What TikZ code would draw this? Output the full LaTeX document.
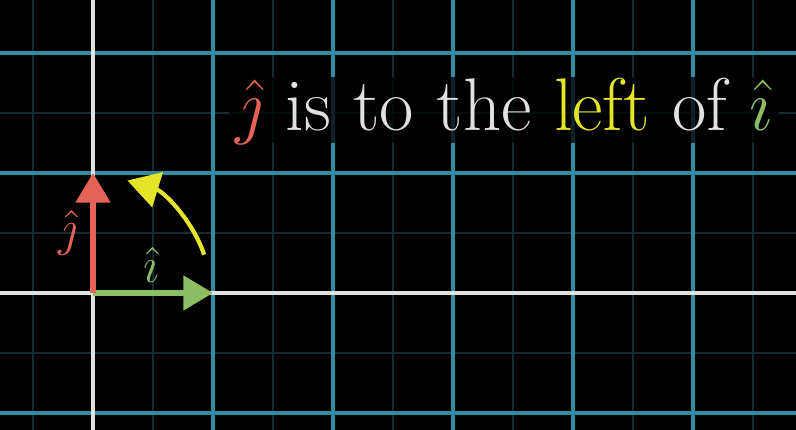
\documentclass[tikz,border=0pt]{standalone}
\usepackage{xcolor}
\usetikzlibrary{arrows.meta, math}
\definecolor{gridteal}{RGB}{52,138,158}
\definecolor{gridfaint}{RGB}{18,44,50}
\definecolor{axiswhite}{RGB}{225,225,225}
\definecolor{jred}{RGB}{228,98,86}
\definecolor{igreen}{RGB}{140,190,100}
\definecolor{leftyellow}{RGB}{228,228,40}

\begin{document}
\begin{tikzpicture}[x=1cm,y=1cm,
  minorline/.style={gridfaint, line width=0.4pt},
  majorline/.style={gridteal, line width=1.05pt},
  axisline/.style={axiswhite, line width=1.15pt},
  basisvec/.style={-{Triangle[length=7pt,width=8pt]}, line width=1.3pt}]
\tikzmath{
\xl=-93/120;
\xr=703/120;
\yb=-137/120;
\yt=293/120;
}
\useasboundingbox (\xl,\yb) rectangle (\xr,\yt);
\fill[black] (\xl,\yb) rectangle (\xr,\yt);
\clip (\xl,\yb) rectangle (\xr,\yt);

% grid
\foreach \x in {-0.5,0.5,...,5.5} \draw[minorline] (\x,\yb) -- (\x,\yt);
\foreach \y in {-0.5,0.5,1.5} \draw[minorline] (\xl,\y) -- (\xr,\y);
\foreach \x in {1,...,5} \draw[majorline] (\x,\yb) -- (\x,\yt);
\foreach \y in {-1,1,2} \draw[majorline] (\xl,\y) -- (\xr,\y);
\draw[axisline] (\xl,0) -- (\xr,0);
\draw[axisline] (0,\yb) -- (0,\yt);

\coordinate (O) at (0,0);
\coordinate (I) at (1,0);
\coordinate (J) at (0,1);

\draw[basisvec, igreen] (O) -- (I);
\draw[basisvec, jred] (O) -- (J);
\node[jred, font=\fontsize{13}{15}\selectfont] (jlabel) at (-0.21,0.5) {$\hat{\jmath}$};
\node[igreen, font=\fontsize{13}{15}\selectfont] (ilabel) at (0.49,0.23) {$\hat{\imath}$};

\draw[leftyellow, line width=1pt, -{Triangle[length=7.5pt,width=8.5pt]}] (19:0.98) arc (19:73:0.98);

\node[anchor=base, fill=black, fill opacity=0.75, text opacity=1, text=axiswhite,
  inner xsep=1.5pt, inner ysep=0pt, text height=12.6pt, text depth=3pt,
  font=\fontsize{17.7}{21}\selectfont] (claim) at (3.425,1.358)
  {\textcolor{jred}{$\hat{\jmath}$} is to the \textcolor{leftyellow}{left} of \textcolor{igreen}{$\hat{\imath}$}};
\end{tikzpicture}
\end{document}
